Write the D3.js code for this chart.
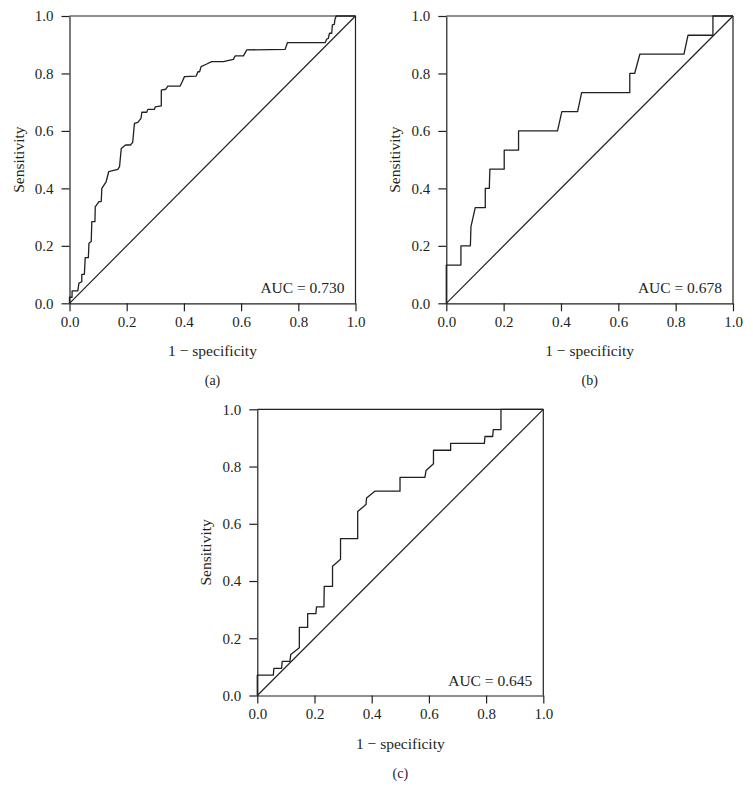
<!DOCTYPE html>
<html>
<head>
<meta charset="utf-8">
<script src="https://cdn.jsdelivr.net/npm/d3@7"></script>
<style>
  html, body { margin: 0; padding: 0; background: #fff; }
  svg text { font-family: "Liberation Serif", "Times New Roman", serif; fill: #231f20; }
</style>
</head>
<body>
<svg id="chart" width="753" height="807"></svg>
<script>
// ---- Data ----
const tickValues = [0, 0.2, 0.4, 0.6, 0.8, 1.0];
const panelLabels = ["(a)", "(b)", "(c)"];
const aucLabels = ["AUC = 0.730", "AUC = 0.678", "AUC = 0.645"];
const xTitle = "1 \u2212 specificity";
const yTitle = "Sensitivity";

const fprA = [0, 0, 0.009, 0.009, 0.029, 0.033, 0.043, 0.043, 0.052, 0.055, 0.066, 0.068, 0.076, 0.078, 0.089, 0.090, 0.103, 0.111, 0.113, 0.128, 0.137, 0.169, 0.175, 0.181, 0.196, 0.213, 0.221, 0.227, 0.239, 0.250, 0.253, 0.270, 0.274, 0.297, 0.300, 0.321, 0.321, 0.336, 0.344, 0.387, 0.394, 0.402, 0.443, 0.449, 0.455, 0.460, 0.478, 0.497, 0.538, 0.573, 0.579, 0.608, 0.620, 0.754, 0.762, 0.894, 0.899, 0.905, 0.909, 0.917, 0.919, 0.926, 0.928, 0.932, 0.932, 1.0];
const tprA = [0, 0.021, 0.021, 0.043, 0.043, 0.070, 0.075, 0.101, 0.101, 0.159, 0.159, 0.209, 0.215, 0.284, 0.284, 0.336, 0.354, 0.354, 0.400, 0.423, 0.458, 0.466, 0.476, 0.539, 0.551, 0.551, 0.560, 0.626, 0.630, 0.644, 0.665, 0.665, 0.675, 0.675, 0.684, 0.687, 0.742, 0.745, 0.756, 0.756, 0.771, 0.789, 0.791, 0.806, 0.806, 0.824, 0.832, 0.841, 0.841, 0.849, 0.861, 0.861, 0.882, 0.884, 0.907, 0.907, 0.919, 0.922, 0.940, 0.940, 0.969, 0.971, 0.988, 0.998, 1.0, 1.0];

const fprB = [0, 0, 0.051, 0.051, 0.084, 0.086, 0.101, 0.136, 0.136, 0.150, 0.152, 0.202, 0.202, 0.252, 0.252, 0.388, 0.403, 0.458, 0.472, 0.640, 0.640, 0.657, 0.675, 0.829, 0.843, 0.930, 0.930, 1.0];
const tprB = [0, 0.133, 0.133, 0.200, 0.200, 0.267, 0.333, 0.333, 0.400, 0.400, 0.467, 0.467, 0.533, 0.533, 0.600, 0.600, 0.667, 0.667, 0.733, 0.733, 0.800, 0.800, 0.867, 0.867, 0.933, 0.933, 1.0, 1.0];

const fprC = [0, 0, 0.056, 0.058, 0.085, 0.087, 0.114, 0.117, 0.147, 0.147, 0.176, 0.176, 0.205, 0.207, 0.233, 0.234, 0.263, 0.263, 0.291, 0.291, 0.351, 0.351, 0.380, 0.382, 0.411, 0.499, 0.499, 0.586, 0.590, 0.616, 0.616, 0.676, 0.676, 0.794, 0.796, 0.823, 0.825, 0.852, 0.852, 1.0];
const tprC = [0, 0.071, 0.071, 0.095, 0.095, 0.119, 0.119, 0.143, 0.167, 0.238, 0.238, 0.286, 0.286, 0.310, 0.310, 0.381, 0.381, 0.452, 0.476, 0.548, 0.548, 0.643, 0.667, 0.690, 0.714, 0.714, 0.762, 0.762, 0.786, 0.810, 0.857, 0.857, 0.881, 0.881, 0.905, 0.905, 0.929, 0.929, 1.0, 1.0];

const fprs = [fprA, fprB, fprC];
const tprs = [tprA, tprB, tprC];

// ---- Layout ----
const boxes = [
  { x0: 69.5, x1: 355.5, y0: 303.3, y1: 16 },
  { x0: 446.3, x1: 733, y0: 303.3, y1: 16 },
  { x0: 257.3, x1: 543.3, y0: 695.5, y1: 409.3 }
];

const svg = d3.select("#chart");
const fmt = d3.format(".1f");
const ink = "#231f20";

boxes.forEach((b, i) => {
  const x = d3.scaleLinear().domain([0, 1]).range([b.x0, b.x1]);
  const y = d3.scaleLinear().domain([0, 1]).range([b.y0, b.y1]);
  const g = svg.append("g");

  // frame (top + right)
  g.append("line").attr("x1", x(0)).attr("x2", x(1)).attr("y1", y(1)).attr("y2", y(1))
    .attr("stroke", ink).attr("stroke-width", 1.2);
  g.append("line").attr("x1", x(1)).attr("x2", x(1)).attr("y1", y(0)).attr("y2", y(1))
    .attr("stroke", ink).attr("stroke-width", 1.2);

  const xAxis = g.append("g").attr("transform", `translate(0,${b.y0})`)
    .call(d3.axisBottom(x).tickValues(tickValues).tickFormat(fmt).tickSize(8).tickPadding(5).tickSizeOuter(0));
  const yAxis = g.append("g").attr("transform", `translate(${b.x0},0)`)
    .call(d3.axisLeft(y).tickValues(tickValues).tickFormat(fmt).tickSize(8).tickPadding(8).tickSizeOuter(0));
  [xAxis, yAxis].forEach(a => {
    a.select(".domain").attr("stroke", ink).attr("stroke-width", 1.2);
    a.selectAll(".tick line").attr("stroke", ink).attr("stroke-width", 1.2);
    a.selectAll(".tick text").style("font-family", '"Liberation Serif", serif').style("font-size", "15px").attr("fill", ink);
  });

  // diagonal
  g.append("line").attr("x1", x(0)).attr("y1", y(0)).attr("x2", x(1)).attr("y2", y(1))
    .attr("stroke", ink).attr("stroke-width", 1.2);

  // ROC curve
  const pts = fprs[i].map((f, k) => [f, tprs[i][k]]);
  g.append("path").datum(pts)
    .attr("d", d3.line().x(d => x(d[0])).y(d => y(d[1])))
    .attr("fill", "none").attr("stroke", ink).attr("stroke-width", 1.3).attr("stroke-linejoin", "round");

  // AUC
  g.append("text").attr("x", x(1) - 11).attr("y", y(0) - 10)
    .attr("text-anchor", "end").style("font-size", "15.5px").text(aucLabels[i]);

  // axis titles
  const cx = (b.x0 + b.x1) / 2;
  g.append("text").attr("x", cx).attr("y", b.y0 + 53)
    .attr("text-anchor", "middle").style("font-size", "15.5px").text(xTitle);
  g.append("text").attr("transform", `translate(${b.x0 - 46},${(b.y0 + b.y1) / 2}) rotate(-90)`)
    .attr("text-anchor", "middle").style("font-size", "15.5px").text(yTitle);

  // panel label
  g.append("text").attr("x", cx).attr("y", b.y0 + 82)
    .attr("text-anchor", "middle").style("font-size", "14px").text(panelLabels[i]);
});
</script>
</body>
</html>
